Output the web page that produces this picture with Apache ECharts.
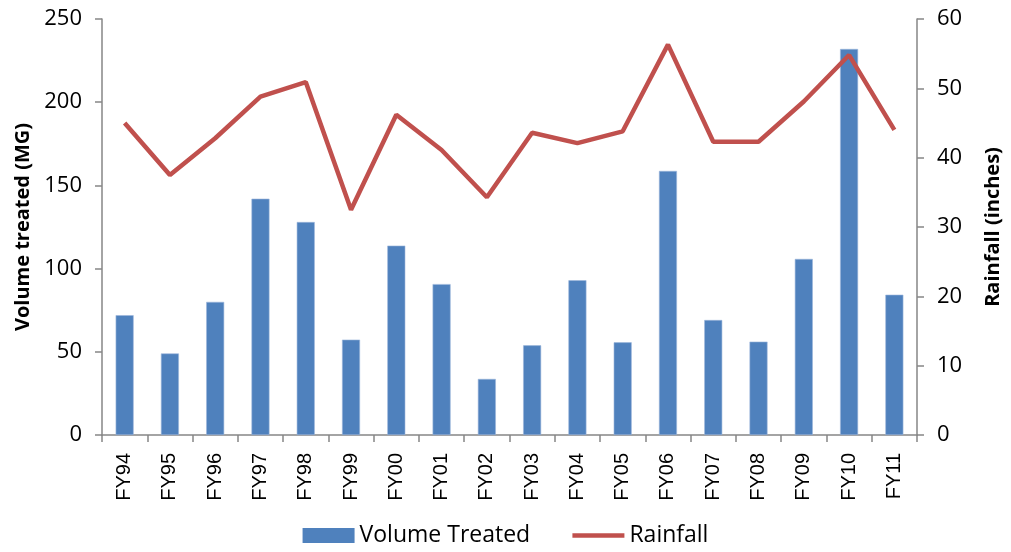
<!DOCTYPE html>
<html><head><meta charset="utf-8">
<script src="https://cdn.jsdelivr.net/npm/echarts@6/dist/echarts.min.js"></script>
<style>html,body{margin:0;padding:0;background:#fff}#c{width:1011px;height:552px}</style>
</head><body><div id="c"></div>
<script>
const categories = ['FY94','FY95','FY96','FY97','FY98','FY99','FY00','FY01','FY02','FY03','FY04','FY05','FY06','FY07','FY08','FY09','FY10','FY11'];
const volumeTreated = [72, 49, 80, 142, 128, 57.3, 113.8, 90.7, 33.7, 53.9, 93, 55.7, 158.7, 69.1, 56.1, 105.8, 232, 84.3];
const rainfall = [45.0, 37.5, 42.8, 48.8, 50.9, 32.5, 46.2, 41.1, 34.3, 43.6, 42.1, 43.8, 56.3, 42.3, 42.3, 48.1, 54.8, 44.0];
const leftTicks = {min: 0, max: 250, interval: 50};
const rightTicks = {min: 0, max: 60, interval: 10};

const font = 'Open Sans';
const axisGray = '#868686';
const chart = echarts.init(document.getElementById('c'));
chart.setOption({
  animation: false,
  grid: {left: 102, right: 89, top: 19, bottom: 117},
  legend: {
    top: 524, left: 'center', itemGap: 40, itemTextGap: 5, padding: 0,
    itemWidth: 52, itemHeight: 15,
    textStyle: {fontFamily: font, fontSize: 23, color: '#000'},
    data: [
      {name: 'Volume Treated', icon: 'rect', itemStyle: {borderWidth: 0}},
      {name: 'Rainfall', itemStyle: {opacity: 0}, lineStyle: {width: 4.5, color: '#C0504D'}}
    ]
  },
  xAxis: {
    type: 'category', data: categories,
    axisLine: {lineStyle: {color: axisGray, width: 1.5}},
    axisTick: {show: true, inside: false, length: 7, lineStyle: {color: axisGray, width: 1.5}},
    axisLabel: {rotate: 90, margin: 18, fontFamily: 'Liberation Sans', fontSize: 20, color: '#000', interval: 0}
  },
  yAxis: [
    {
      type: 'value', min: leftTicks.min, max: leftTicks.max, interval: leftTicks.interval,
      name: 'Volume treated (MG)', nameLocation: 'middle', nameGap: 68, nameRotate: 90,
      nameTextStyle: {fontFamily: font, fontSize: 20, fontWeight: 'bold', color: '#000'},
      axisLine: {show: true, lineStyle: {color: axisGray, width: 1.5}},
      axisTick: {show: true, length: 7, lineStyle: {color: axisGray, width: 1.5}},
      axisLabel: {fontFamily: font, fontSize: 22, color: '#000', margin: 20},
      splitLine: {show: false}
    },
    {
      type: 'value', min: rightTicks.min, max: rightTicks.max, interval: rightTicks.interval,
      name: 'Rainfall (inches)', nameLocation: 'middle', nameGap: 66, nameRotate: 90,
      nameTextStyle: {fontFamily: font, fontSize: 20, fontWeight: 'bold', color: '#000'},
      axisLine: {show: true, lineStyle: {color: axisGray, width: 1.5}},
      axisTick: {show: true, length: 7, lineStyle: {color: axisGray, width: 1.5}},
      axisLabel: {fontFamily: font, fontSize: 22, color: '#000', margin: 20},
      splitLine: {show: false}
    }
  ],
  series: [
    {
      name: 'Volume Treated', type: 'bar', data: volumeTreated, yAxisIndex: 0,
      barWidth: 18,
      itemStyle: {color: '#4F81BD', borderColor: '#9DB7DC', borderWidth: 0.6}
    },
    {
      name: 'Rainfall', type: 'line', data: rainfall, yAxisIndex: 1,
      symbol: 'none', lineStyle: {color: '#C0504D', width: 4.5}, itemStyle: {color: '#C0504D'}
    }
  ]
});
</script></body></html>
